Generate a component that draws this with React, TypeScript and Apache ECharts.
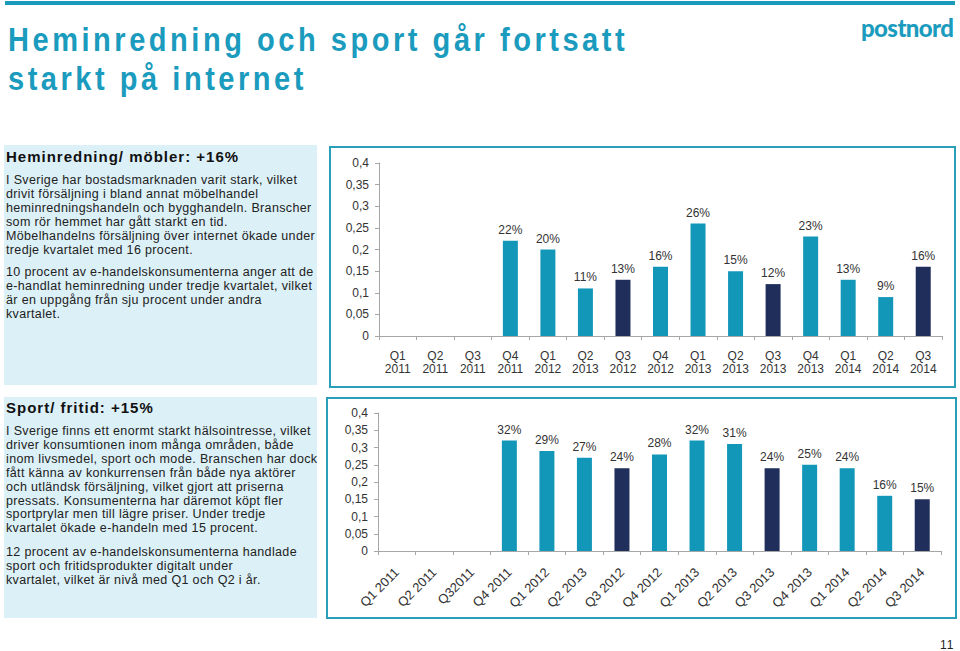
import React, { useEffect, useRef } from "react";
import * as echarts from "echarts";

const topCategories = [
  "Q1\n2011", "Q2\n2011", "Q3\n2011", "Q4\n2011", "Q1\n2012", "Q2\n2013", "Q3\n2012", "Q4\n2012",
  "Q1\n2013", "Q2\n2013", "Q3\n2013", "Q4\n2013", "Q1\n2014", "Q2\n2014", "Q3\n2014",
];
const bottomCategories = [
  "Q1 2011", "Q2 2011", "Q32011", "Q4 2011", "Q1 2012", "Q2 2013", "Q3 2012", "Q4 2012",
  "Q1 2013", "Q2 2013", "Q3 2013", "Q4 2013", "Q1 2014", "Q2 2014", "Q3 2014",
];
const heminredningValues = [null, null, null, 0.22, 0.2, 0.11, 0.13, 0.16, 0.26, 0.15, 0.12, 0.23, 0.13, 0.09, 0.16];
const sportValues = [null, null, null, 0.32, 0.29, 0.27, 0.24, 0.28, 0.32, 0.31, 0.24, 0.25, 0.24, 0.16, 0.15];
const highlightedIndices = [6, 10, 14];
const yTicks = { min: 0, max: 0.4, interval: 0.05 };

const TEAL = "#1397b9";
const NAVY = "#202e5b";
const TEXT = "#333333";
const FONT = "'Liberation Sans', Arial, sans-serif";

function toData(values: (number | null)[]) {
  return values.map((v, i) => ({
    value: v,
    itemStyle: { color: highlightedIndices.includes(i) ? NAVY : TEAL },
  }));
}

const yAxisBase = (gridIndex: number) => ({
  type: "value",
  gridIndex,
  min: yTicks.min,
  max: yTicks.max,
  interval: yTicks.interval,
  axisLine: { show: true, lineStyle: { color: "#a6a6a6" } },
  axisTick: { show: true, length: 4, lineStyle: { color: "#a6a6a6" } },
  splitLine: { show: false },
  axisLabel: {
    margin: 10,
    color: TEXT,
    fontSize: 12,
    fontFamily: FONT,
    formatter: (v: number) => (v === 0 ? "0" : String(+v.toFixed(2)).replace(".", ",")),
  },
});

const barLabel = {
  show: true,
  position: "top",
  distance: 5,
  color: TEXT,
  fontSize: 12,
  fontFamily: FONT,
  formatter: (p: any) => (p.value == null ? "" : Math.round(p.value * 100) + "%"),
};

export default function App() {
  const ref = useRef<HTMLDivElement>(null);
  useEffect(() => {
    if (!ref.current) return;
    const chart = echarts.init(ref.current, null, { renderer: "svg" });
    chart.setOption({
      animation: false,
      grid: [
        { left: 379, right: 18, top: 163, bottom: 315 },
        { left: 378, right: 19, top: 413, bottom: 100 },
      ],
      xAxis: [
        {
          type: "category",
          gridIndex: 0,
          data: topCategories,
          axisLine: { lineStyle: { color: "#a6a6a6" } },
          axisTick: { show: true, length: 4, lineStyle: { color: "#a6a6a6" } },
          axisLabel: { interval: 0, margin: 13, color: TEXT, fontSize: 12, lineHeight: 13, fontFamily: FONT },
        },
        {
          type: "category",
          gridIndex: 1,
          data: bottomCategories,
          axisLine: { lineStyle: { color: "#a6a6a6" } },
          axisTick: { show: true, length: 4, lineStyle: { color: "#a6a6a6" } },
          axisLabel: { interval: 0, rotate: 45, margin: 19, color: TEXT, fontSize: 13, fontFamily: FONT },
        },
      ],
      yAxis: [yAxisBase(0), yAxisBase(1)],
      series: [
        {
          type: "bar",
          xAxisIndex: 0,
          yAxisIndex: 0,
          barWidth: 15,
          data: toData(heminredningValues),
          label: barLabel,
        },
        {
          type: "bar",
          xAxisIndex: 1,
          yAxisIndex: 1,
          barWidth: 15,
          data: toData(sportValues),
          label: barLabel,
        },
      ],
      graphic: [
        {
          type: "rect",
          shape: { x: 330, y: 147, width: 625, height: 240 },
          style: { fill: "none", stroke: "#2a9fba", lineWidth: 2 },
          silent: true,
        },
        {
          type: "rect",
          shape: { x: 327, y: 398, width: 629, height: 220 },
          style: { fill: "none", stroke: "#2a9fba", lineWidth: 2 },
          silent: true,
        },
      ],
    });
    return () => chart.dispose();
  }, []);

  const para: React.CSSProperties = {
    margin: 0,
    fontSize: 12.5,
    lineHeight: "13.9px",
    letterSpacing: 0.35,
    color: "#222",
    fontFamily: FONT,
    whiteSpace: "nowrap",
  };
  const head: React.CSSProperties = {
    margin: 0,
    fontSize: 15,
    fontWeight: "bold",
    letterSpacing: 1,
    color: "#111",
    fontFamily: FONT,
    lineHeight: "18px",
    whiteSpace: "nowrap",
  };

  return (
    <div style={{ position: "absolute", left: 0, top: 0, width: 960, height: 651, background: "#fff", overflow: "hidden" }}>
      <div style={{ position: "absolute", left: 5, top: 1, width: 950, height: 4, background: "#1a9bbb" }} />
      <div
        style={{
          position: "absolute",
          left: 8,
          top: 20,
          fontFamily: FONT,
          fontWeight: "bold",
          fontSize: 33,
          lineHeight: "39px",
          letterSpacing: 4,
          color: "#1b9bbd",
          whiteSpace: "nowrap",
          transform: "scaleX(0.88)",
          transformOrigin: "0 0",
        }}
      >
        Heminredning och sport går fortsatt
        <br />
        starkt på internet
      </div>
      <div
        style={{
          position: "absolute",
          left: 861,
          top: 14,
          fontFamily: "Lato, sans-serif",
          fontWeight: 900,
          fontSize: 24,
          letterSpacing: -0.6,
          color: "#1b9bbd",
          lineHeight: "28px",
        }}
      >
        postnord
      </div>

      <div style={{ position: "absolute", left: 4, top: 145, width: 313, height: 240, background: "#dcf0f7" }}>
        <div style={{ position: "absolute", left: 2, top: 3 }}>
          <p style={head}>Heminredning/ möbler: +16%</p>
          <p style={{ ...para, marginTop: 8 }}>
            I Sverige har bostadsmarknaden varit stark, vilket
            <br />
            drivit försäljning i bland annat möbelhandel
            <br />
            heminredningshandeln och bygghandeln. Branscher
            <br />
            som rör hemmet har gått starkt en tid.
            <br />
            Möbelhandelns försäljning över internet ökade under
            <br />
            tredje kvartalet med 16 procent.
          </p>
          <p style={{ ...para, marginTop: 9 }}>
            10 procent av e-handelskonsumenterna anger att de
            <br />
            e-handlat heminredning under tredje kvartalet, vilket
            <br />
            är en uppgång från sju procent under andra
            <br />
            kvartalet.
          </p>
        </div>
      </div>

      <div style={{ position: "absolute", left: 4, top: 397, width: 313, height: 221, background: "#dcf0f7" }}>
        <div style={{ position: "absolute", left: 2, top: 2 }}>
          <p style={head}>Sport/ fritid: +15%</p>
          <p style={{ ...para, marginTop: 8 }}>
            I Sverige finns ett enormt starkt hälsointresse, vilket
            <br />
            driver konsumtionen inom många områden, både
            <br />
            inom livsmedel, sport och mode. Branschen har dock
            <br />
            fått känna av konkurrensen från både nya aktörer
            <br />
            och utländsk försäljning, vilket gjort att priserna
            <br />
            pressats. Konsumenterna har däremot köpt fler
            <br />
            sportprylar men till lägre priser. Under tredje
            <br />
            kvartalet ökade e-handeln med 15 procent.
          </p>
          <p style={{ ...para, marginTop: 10 }}>
            12 procent av e-handelskonsumenterna handlade
            <br />
            sport och fritidsprodukter digitalt under
            <br />
            kvartalet, vilket är nivå med Q1 och Q2 i år.
          </p>
        </div>
      </div>

      <div style={{ position: "absolute", left: 940, top: 638, fontFamily: FONT, fontSize: 12, color: "#222", letterSpacing: 1 }}>
        11
      </div>

      <div ref={ref} style={{ position: "absolute", left: 0, top: 0, width: 960, height: 651 }} />
    </div>
  );
}
